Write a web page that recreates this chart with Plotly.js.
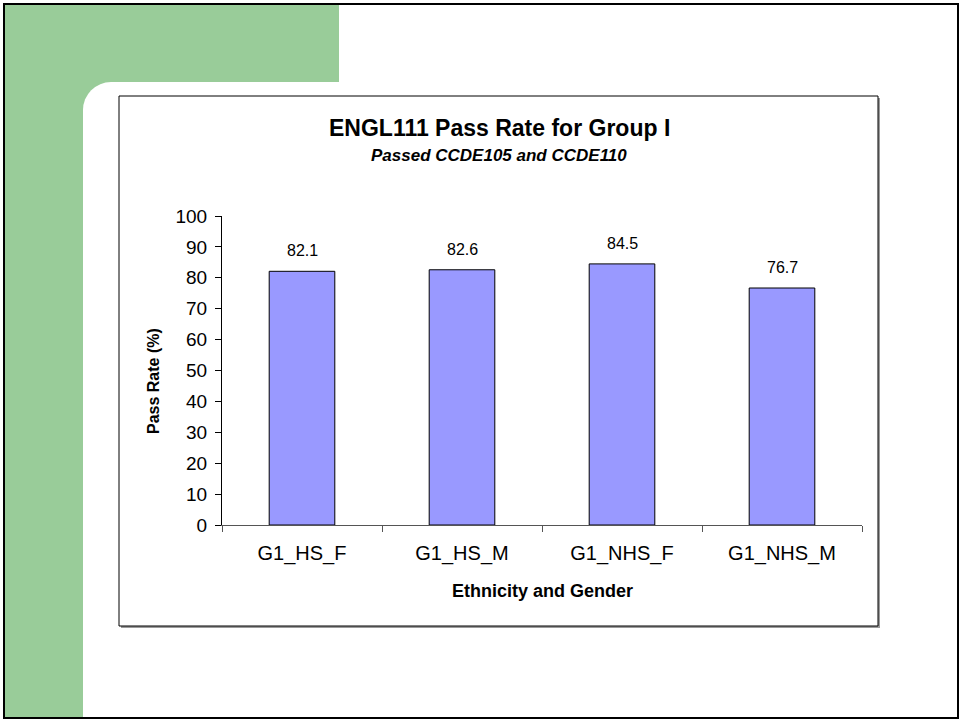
<!DOCTYPE html>
<html>
<head>
<meta charset="utf-8">
<script src="https://cdn.plot.ly/plotly-3.0.1.min.js"></script>
<style>
  html, body { margin: 0; padding: 0; background: #fff; }
  body { width: 961px; height: 721px; position: relative; overflow: hidden; }
  .frame { position: absolute; left: 3px; top: 3px; width: 956px; height: 716px;
           border: 2px solid #000; box-sizing: border-box; }
  .band-top { position: absolute; left: 5px; top: 5px; width: 334px; height: 77px; background: #99CC99; }
  .band-left { position: absolute; left: 5px; top: 5px; width: 78px; height: 712px; background: #99CC99; }
  .corner { position: absolute; left: 83px; top: 82px; width: 28px; height: 28px; background: #99CC99; }
  .corner-cut { position: absolute; left: 83px; top: 82px; width: 60px; height: 60px; background: #fff;
                border-top-left-radius: 28px; }
  #chart { position: absolute; left: 0; top: 0; width: 961px; height: 721px; }
</style>
</head>
<body>
<div class="band-top"></div>
<div class="band-left"></div>
<div class="corner"></div>
<div class="corner-cut"></div>
<div class="frame"></div>
<div id="chart"></div>
<script>
// Pass rates by group
const categories = ['G1_HS_F', 'G1_HS_M', 'G1_NHS_F', 'G1_NHS_M'];
const passRates = [82.1, 82.6, 84.5, 76.7];
const yTickValues = [0, 10, 20, 30, 40, 50, 60, 70, 80, 90, 100];

const W = 961, H = 721;
const M = { l: 222, r: 99, t: 216, b: 196 };
const PW = W - M.l - M.r, PH = H - M.t - M.b;
// pixel -> paper fraction helpers for decorations
const px = x => (x - M.l) / PW;
const py = y => (H - M.b - y) / PH;

const FONT = 'Arial, "Liberation Sans", sans-serif';

const trace = {
  type: 'bar',
  x: categories,
  y: passRates,
  width: 0.41,
  marker: { color: '#9999FF', line: { color: '#000000', width: 1 } },
  hoverinfo: 'x+y'
};

// value labels above each bar
const valueLabels = categories.map((c, i) => ({
  x: c, y: passRates[i], xref: 'x', yref: 'y',
  text: passRates[i].toFixed(1),
  showarrow: false, yanchor: 'bottom', yshift: 10,
  font: { family: FONT, size: 16, color: '#000' }
}));

const layout = {
  width: W, height: H,
  margin: M,
  paper_bgcolor: 'rgba(0,0,0,0)',
  plot_bgcolor: 'rgba(0,0,0,0)',
  showlegend: false,
  font: { family: FONT, color: '#000' },
  xaxis: {
    type: 'category',
    range: [-0.5, 3.5],
    showline: true, linecolor: '#555', linewidth: 1,
    ticks: 'outside', tickson: 'boundaries', ticklen: 6, tickcolor: '#555',
    tickfont: { family: FONT, size: 20, color: '#000' },
    ticklabelstandoff: 10,
    showgrid: false, zeroline: false, fixedrange: true
  },
  yaxis: {
    range: [0, 100],
    tickvals: yTickValues,
    showline: true, linecolor: '#000', linewidth: 1,
    ticks: 'outside', ticklen: 6, tickcolor: '#000',
    tickfont: { family: FONT, size: 19, color: '#000' },
    ticklabelstandoff: 4,
    showgrid: false, zeroline: false, fixedrange: true
  },
  shapes: [
    // chart box shadow
    { type: 'rect', xref: 'paper', yref: 'paper', layer: 'below',
      x0: px(121), x1: px(880), y0: py(628), y1: py(98),
      fillcolor: '#9a9a9a', line: { width: 0 } },
    // chart box
    { type: 'rect', xref: 'paper', yref: 'paper', layer: 'below',
      x0: px(119), x1: px(878), y0: py(626), y1: py(96),
      fillcolor: '#ffffff', line: { color: '#000', width: 1 } }
  ],
  annotations: [
    { xref: 'paper', yref: 'paper', x: px(499), y: py(113), xanchor: 'center', yanchor: 'top',
      showarrow: false, text: '<b>ENGL111 Pass Rate for Group I</b>',
      font: { family: FONT, size: 23, color: '#000' } },
    { xref: 'paper', yref: 'paper', x: px(499), y: py(144), xanchor: 'center', yanchor: 'top',
      showarrow: false, text: '<b><i>Passed CCDE105 and CCDE110</i></b>',
      font: { family: FONT, size: 17, color: '#000' } },
    { xref: 'paper', yref: 'paper', x: px(153), y: py(381), xanchor: 'center', yanchor: 'middle',
      showarrow: false, textangle: -90, text: '<b>Pass Rate (%)</b>',
      font: { family: FONT, size: 16, color: '#000' } },
    { xref: 'paper', yref: 'paper', x: px(542), y: py(591), xanchor: 'center', yanchor: 'middle',
      showarrow: false, text: '<b>Ethnicity and Gender</b>',
      font: { family: FONT, size: 18, color: '#000' } }
  ].concat(valueLabels)
};

Plotly.newPlot('chart', [trace], layout, { displayModeBar: false, staticPlot: true });
</script>
</body>
</html>
